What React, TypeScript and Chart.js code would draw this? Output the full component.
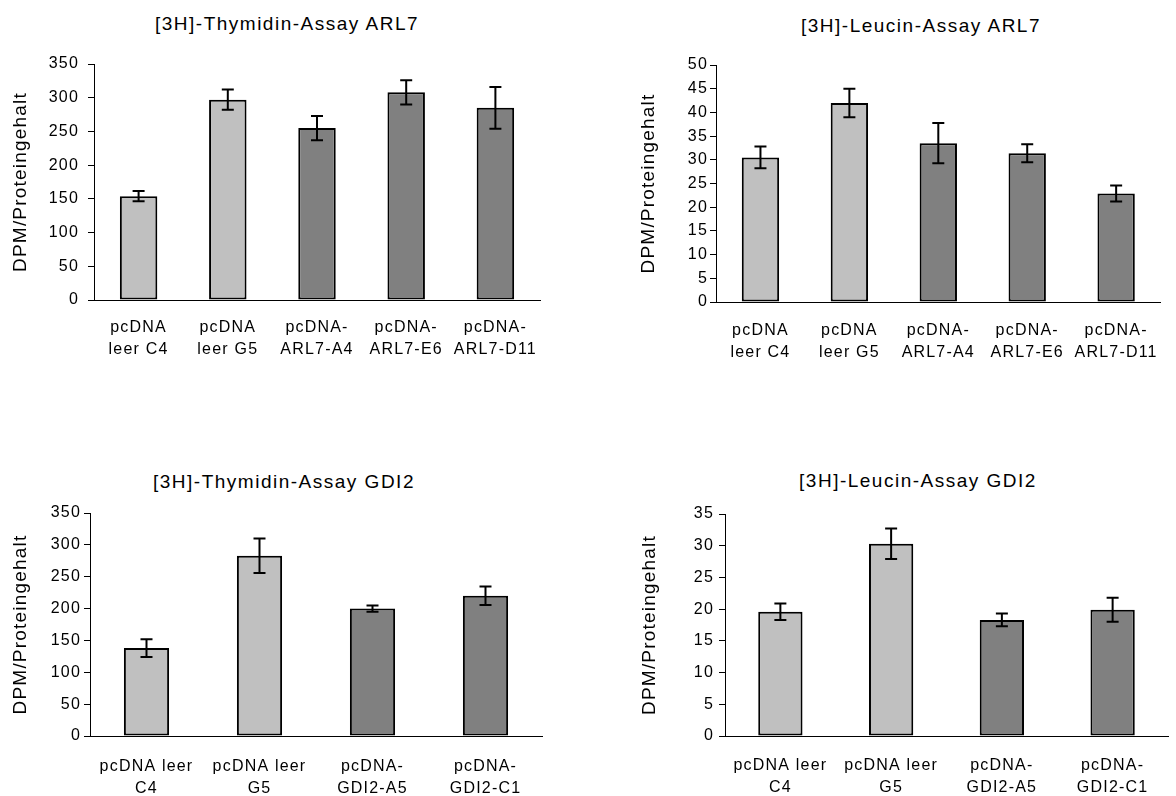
import React, { useEffect, useRef } from 'react';
import { Chart, registerables } from 'chart.js';

Chart.register(...registerables);

const FONT = '"Liberation Sans", Arial, Helvetica, sans-serif';
const LIGHT = '#c0c0c0';
const DARK = '#808080';
const Y_TITLE = 'DPM/Proteingehalt';

// ---- Data ----
const thyArlLabels = [['pcDNA', 'leer C4'], ['pcDNA', 'leer G5'], ['pcDNA-', 'ARL7-A4'], ['pcDNA-', 'ARL7-E6'], ['pcDNA-', 'ARL7-D11']];
const thyArlValues = [154, 297, 255, 308, 285];
const thyArlErrors = [7.5, 15, 18, 18, 31];

const leuArlLabels = [['pcDNA', 'leer C4'], ['pcDNA', 'leer G5'], ['pcDNA-', 'ARL7-A4'], ['pcDNA-', 'ARL7-E6'], ['pcDNA-', 'ARL7-D11']];
const leuArlValues = [30.5, 42, 33.5, 31.4, 22.9];
const leuArlErrors = [2.3, 3, 4.25, 1.9, 1.7];

const thyGdiLabels = [['pcDNA leer', 'C4'], ['pcDNA leer', 'G5'], ['pcDNA-', 'GDI2-A5'], ['pcDNA-', 'GDI2-C1']];
const thyGdiValues = [138, 283, 200, 220];
const thyGdiErrors = [14, 27, 5, 14.5];

const leuGdiLabels = [['pcDNA leer', 'C4'], ['pcDNA leer', 'G5'], ['pcDNA-', 'GDI2-A5'], ['pcDNA-', 'GDI2-C1']];
const leuGdiValues = [19.6, 30.3, 18.3, 19.9];
const leuGdiErrors = [1.3, 2.4, 1.0, 1.9];

const arlColors = [LIGHT, LIGHT, DARK, DARK, DARK];
const gdiColors = [LIGHT, LIGHT, DARK, DARK];

// ---- Layout ----
const panels = [
  {
    key: 'thyArl', title: '[3H]-Thymidin-Assay ARL7',
    labels: thyArlLabels, values: thyArlValues, errors: thyArlErrors, colors: arlColors,
    yMax: 350, yStep: 50,
    box: { left: 0, top: 40, width: 574, height: 330 },
    padTop: 24, padRight: 34, yWidth: 94, xHeight: 70,
    yTitlePad: 9, yTickPad: 9, xTickPad: 17, barPct: 0.42,
    titleCx: 287, titleCy: 23,
  },
  {
    key: 'leuArl', title: '[3H]-Leucin-Assay ARL7',
    labels: leuArlLabels, values: leuArlValues, errors: leuArlErrors, colors: arlColors,
    yMax: 50, yStep: 5,
    box: { left: 620, top: 40, width: 556, height: 330 },
    padTop: 25, padRight: 3, yWidth: 96, xHeight: 68,
    yTitlePad: 17.5, yTickPad: 2, xTickPad: 18, barPct: 0.42,
    titleCx: 921, titleCy: 25,
  },
  {
    key: 'thyGdi', title: '[3H]-Thymidin-Assay GDI2',
    labels: thyGdiLabels, values: thyGdiValues, errors: thyGdiErrors, colors: gdiColors,
    yMax: 350, yStep: 50,
    box: { left: 0, top: 480, width: 574, height: 316 },
    padTop: 33, padRight: 32, yWidth: 90, xHeight: 60,
    yTitlePad: 9, yTickPad: 3, xTickPad: 20, barPct: 0.4,
    titleCx: 284, titleCy: 481,
  },
  {
    key: 'leuGdi', title: '[3H]-Leucin-Assay GDI2',
    labels: leuGdiLabels, values: leuGdiValues, errors: leuGdiErrors, colors: gdiColors,
    yMax: 35, yStep: 5,
    box: { left: 620, top: 480, width: 556, height: 316 },
    padTop: 34, padRight: 8, yWidth: 105, xHeight: 60,
    yTitlePad: 18.5, yTickPad: 5, xTickPad: 19, barPct: 0.4,
    titleCx: 918, titleCy: 480,
  },
];

const spacingPlugin = {
  id: 'letterSpacing',
  beforeUpdate(chart: any) { try { chart.ctx.letterSpacing = '1.2px'; } catch (e) {} },
  beforeDraw(chart: any) { try { chart.ctx.letterSpacing = '1.2px'; } catch (e) {} },
};

const errorBarPlugin = {
  id: 'errorBars',
  afterDatasetsDraw(chart: any) {
    const ctx = chart.ctx;
    const yScale = chart.scales.y;
    chart.data.datasets.forEach((ds: any, di: number) => {
      const meta = chart.getDatasetMeta(di);
      const errs: number[] = ds.errors || [];
      meta.data.forEach((bar: any, i: number) => {
        const v = ds.data[i];
        const e = errs[i];
        if (e == null) return;
        const x = bar.x;
        const yTop = yScale.getPixelForValue(v + e);
        const yBot = yScale.getPixelForValue(v - e);
        const cap = 6;
        ctx.save();
        ctx.strokeStyle = '#000';
        ctx.lineWidth = 2;
        ctx.beginPath();
        ctx.moveTo(x, yTop);
        ctx.lineTo(x, yBot);
        ctx.moveTo(x - cap, yTop);
        ctx.lineTo(x + cap, yTop);
        ctx.moveTo(x - cap, yBot);
        ctx.lineTo(x + cap, yBot);
        ctx.stroke();
        ctx.restore();
      });
    });
  },
};

function Panel({ p }: { p: any }) {
  const ref = useRef<HTMLCanvasElement>(null);
  useEffect(() => {
    if (!ref.current) return;
    const chart = new Chart(ref.current, {
      type: 'bar',
      data: {
        labels: p.labels,
        datasets: [{
          data: p.values,
          errors: p.errors,
          backgroundColor: p.colors,
          borderColor: '#000',
          borderWidth: 2,
          borderSkipped: false,
          categoryPercentage: 1,
          barPercentage: p.barPct,
        } as any],
      },
      options: {
        animation: false,
        responsive: false,
        maintainAspectRatio: false,
        events: [],
        layout: { padding: { top: p.padTop, right: p.padRight, left: 0, bottom: 0 } },
        plugins: {
          legend: { display: false },
          tooltip: { enabled: false },
          title: { display: false },
        },
        scales: {
          x: {
            grid: { display: false, drawTicks: false },
            border: { display: true, color: '#000', width: 1 },
            ticks: {
              color: '#000',
              font: { family: FONT, size: 16, lineHeight: 1.35 },
              padding: p.xTickPad,
              maxRotation: 0,
              autoSkip: false,
            },
            afterFit: (s: any) => { s.height = p.xHeight; },
          },
          y: {
            min: 0,
            max: p.yMax,
            grid: { drawOnChartArea: false, drawTicks: true, tickLength: 6, color: '#000', lineWidth: 1 },
            border: { display: true, color: '#000', width: 1 },
            ticks: {
              stepSize: p.yStep,
              color: '#000',
              font: { family: FONT, size: 16 },
              padding: p.yTickPad,
            },
            title: {
              display: true,
              text: Y_TITLE,
              color: '#000',
              font: { family: FONT, size: 19 },
              padding: { top: p.yTitlePad, bottom: 0 },
            },
            afterFit: (s: any) => { s.width = p.yWidth; },
          },
        },
      } as any,
      plugins: [spacingPlugin, errorBarPlugin],
    });
    return () => chart.destroy();
  }, [p]);

  return (
    <>
      <div
        style={{
          position: 'absolute',
          left: p.titleCx - 200,
          top: p.titleCy - 11.5,
          width: 400,
          height: 23,
          lineHeight: '23px',
          textAlign: 'center',
          fontFamily: FONT,
          fontSize: 19,
          letterSpacing: '1.5px',
          color: '#000',
          whiteSpace: 'nowrap',
        }}
      >
        {p.title}
      </div>
      <canvas
        ref={ref}
        width={p.box.width}
        height={p.box.height}
        style={{
          position: 'absolute',
          left: p.box.left,
          top: p.box.top,
          width: p.box.width,
          height: p.box.height,
        }}
      />
    </>
  );
}

export default function App() {
  return (
    <div style={{ position: 'absolute', left: 0, top: 0, width: 1176, height: 796, background: '#fff', overflow: 'hidden' }}>
      {panels.map((p) => <Panel key={p.key} p={p} />)}
    </div>
  );
}
